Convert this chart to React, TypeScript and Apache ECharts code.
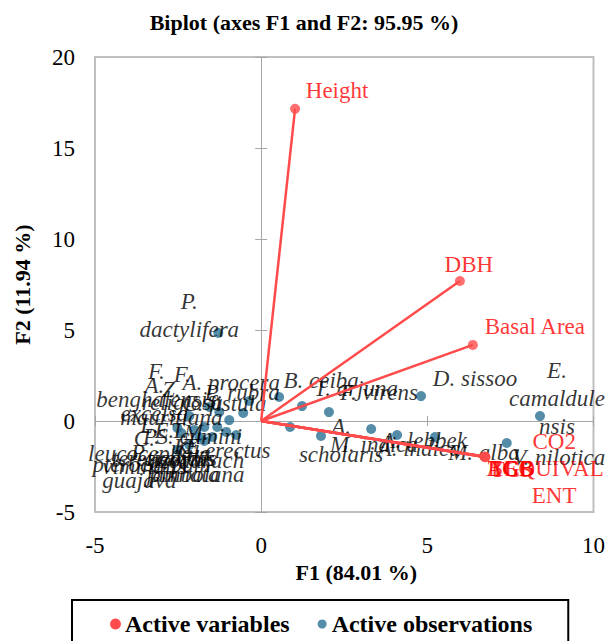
import React, { useEffect, useRef } from 'react';
import * as echarts from 'echarts';

const FONT = "'Liberation Serif', 'Times New Roman', serif";
const RED = '#FF4B4B';
const BLUE = '#2A7193';

// Active variables (F1, F2 coordinates of the vector tips)
const VAR_LABELS = ['Height', 'DBH', 'Basal Area', 'AGB', 'BGB', 'TGB', 'TCS', 'CO2\nEQUIVAL\nENT'];
const VAR_F1 = [1.02, 5.98, 6.37, 6.72, 6.74, 6.73, 6.75, 6.74];
const VAR_F2 = [17.15, 7.69, 4.18, -1.95, -1.97, -1.96, -1.99, -1.98];

// Active observations
const OBS_LABELS = [
  'P.\ndactylifera', 'E.\ncamaldule\nnsis', 'V. nilotica', 'D. sissoo', 'B. ceiba',
  'T. arjuna', 'F. virens', 'A.\nscholaris', 'M. indica', 'A. indica',
  'A. lebbek', 'M. alba', 'A. procera', 'P. rubra', 'C. fistula',
  'F.\nbenghalensis', 'F.\nreligiosa', 'A.\nexcelsa', 'Z.\nmauritiana', 'E.\ntereticornis',
  'L.\nleucocephala', 'M.\nazedarach', 'S. cumini', 'C. erectus', 'T.\ngrandis',
  'E.\njambolana', 'P.\npterocarpum', 'C.\nviminalis', 'P.\nguajava', 'K.\npinnata',
];
const OBS_F1 = [
  -1.29, 8.39, 7.39, 4.81, 0.54,
  1.23, 2.04, 0.87, 1.80, 3.31,
  4.09, 5.23, -0.36, -0.54, -0.96,
  -1.56, -1.26, -2.16, -1.71, -2.01,
  -2.52, -1.47, -1.05, -0.75, -1.32,
  -1.86, -2.40, -2.52, -2.16, -1.71,
];
const OBS_F2 = [
  4.84, 0.27, -1.21, 1.37, 1.32,
  0.82, 0.49, -0.33, -0.82, -0.44,
  -0.77, -0.88, 1.10, 0.44, 0.05,
  0.77, 0.49, 0.27, -0.33, -0.49,
  -0.38, -0.88, -0.60, -0.77, -0.33,
  -0.88, -0.66, -1.59, -1.32, -1.10,
];

// Label placement (styling): pixel offset of each label centre from its point
const VAR_LABEL_OFFSETS = [[42, -18], [9, -17], [62, -18], [26, 12], [26, 12], [26, 12], [26, 12], [69, 11]];
const OBS_LABEL_OFFSETS = [
  [-29, -17], [17, -18], [52, 14], [54, -18], [42, -16],
  [54, -18], [50, -20], [51, 13], [53, 9], [48, 19],
  [27, 5], [49, 15], [-18, -18], [-1, -20], [-5, -17],
  [-53, -21], [-37, -24], [-35, -17], [-33, -24], [-30, 15],
  [-28, 12], [-16, 9], [-27, 5], [-12, 15], [-38, 17],
  [-4, 23], [-30, 17], [-33, 3], [-50, 21], [-20, 19],
];

const X_MIN = -5, X_MAX = 10, Y_MIN = -5, Y_MAX = 20, STEP = 5;

export default function App() {
  const ref = useRef<HTMLDivElement>(null);
  useEffect(() => {
    document.body.style.margin = '0';
    if (!ref.current) return;
    const chart = echarts.init(ref.current, null, { renderer: 'svg' });
    const gray = '#A6A6A6';
    const xBase = { type: 'value', min: X_MIN, max: X_MAX, interval: STEP, splitLine: { show: false } };
    const yBase = { type: 'value', min: Y_MIN, max: Y_MAX, interval: STEP, splitLine: { show: false } };
    const tickLabel = { fontSize: 23, color: '#000', fontFamily: FONT };
    const nameStyle = { fontSize: 22, color: '#000', fontFamily: FONT, fontWeight: 'bold' };

    chart.setOption({
      animation: false,
      title: {
        text: 'Biplot (axes F1 and F2: 95.95 %)',
        left: 'center',
        top: 6,
        textStyle: { fontFamily: FONT, fontWeight: 'bold', fontSize: 22, color: '#000' },
      },
      grid: {
        left: 95, right: 14, top: 57, bottom: 129,
        show: true, borderColor: '#BFBFBF', borderWidth: 2,
      },
      legend: {
        left: 72, top: 600,
        padding: [12, 36, 30, 38],
        borderColor: '#000', borderWidth: 2,
        itemWidth: 9, itemHeight: 9, itemGap: 28,
        textStyle: { fontFamily: FONT, fontWeight: 'bold', fontSize: 24, color: '#000' },
        data: [
          { name: 'Active variables', icon: 'circle', itemStyle: { color: RED } },
          { name: 'Active observations', icon: 'circle', itemStyle: { color: BLUE } },
        ],
      },
      xAxis: [
        {
          ...xBase, position: 'bottom',
          axisLine: { show: false, onZero: false }, axisTick: { show: false },
          axisLabel: { ...tickLabel, margin: 22 },
          name: 'F1 (84.01 %)', nameLocation: 'middle', nameGap: 46,
          nameTextStyle: { ...nameStyle, padding: [0, 0, 0, 24] },
        },
        {
          ...xBase,
          axisLine: { show: true, onZero: true, onZeroAxisIndex: 0, lineStyle: { color: gray, width: 1 } },
          axisTick: { show: true, length: 5, lineStyle: { color: gray } },
          axisLabel: { show: false },
        },
        {
          ...xBase,
          axisLine: { show: false, onZero: true, onZeroAxisIndex: 0 },
          axisTick: { show: true, inside: true, length: 5, lineStyle: { color: gray } },
          axisLabel: { show: false },
        },
      ],
      yAxis: [
        {
          ...yBase, position: 'left',
          axisLine: { show: false, onZero: false }, axisTick: { show: false },
          axisLabel: { ...tickLabel, margin: 20 },
          name: 'F2 (11.94 %)', nameLocation: 'middle', nameGap: 62,
          nameTextStyle: nameStyle,
        },
        {
          ...yBase,
          axisLine: { show: true, onZero: true, onZeroAxisIndex: 0, lineStyle: { color: gray, width: 1 } },
          axisTick: { show: true, length: 6, lineStyle: { color: gray } },
          axisLabel: { show: false },
        },
        {
          ...yBase,
          axisLine: { show: false, onZero: true, onZeroAxisIndex: 0 },
          axisTick: { show: true, inside: true, length: 6, lineStyle: { color: gray } },
          axisLabel: { show: false },
        },
      ],
      series: [
        {
          type: 'lines',
          name: 'Active variables',
          coordinateSystem: 'cartesian2d',
          xAxisIndex: 0, yAxisIndex: 0,
          silent: true,
          z: 3,
          lineStyle: { color: RED, width: 2.5, opacity: 1 },
          data: VAR_F1.map((x, i) => ({ coords: [[0, 0], [x, VAR_F2[i]]] })),
        },
        {
          type: 'scatter',
          name: 'Active variables',
          xAxisIndex: 0, yAxisIndex: 0,
          symbol: 'circle', symbolSize: 10,
          itemStyle: { color: RED },
          z: 4,
          label: {
            show: true, position: 'inside', align: 'center', verticalAlign: 'middle',
            formatter: (p: any) => p.name,
            fontFamily: FONT, fontSize: 23, lineHeight: 27, color: '#FF0000',
          },
          data: VAR_F1.map((x, i) => ({
            name: VAR_LABELS[i],
            value: [x, VAR_F2[i]],
            label: { offset: VAR_LABEL_OFFSETS[i] },
          })),
        },
        {
          type: 'scatter',
          name: 'Active observations',
          xAxisIndex: 0, yAxisIndex: 0,
          symbol: 'circle', symbolSize: 10,
          itemStyle: { color: BLUE },
          z: 2,
          label: {
            show: true, position: 'inside', align: 'center', verticalAlign: 'middle',
            formatter: (p: any) => p.name,
            fontFamily: FONT, fontStyle: 'italic', fontSize: 23, lineHeight: 28, color: '#000',
          },
          data: OBS_F1.map((x, i) => ({
            name: OBS_LABELS[i],
            value: [x, OBS_F2[i]],
            label: { offset: OBS_LABEL_OFFSETS[i] },
          })),
        },
      ],
    });
    return () => chart.dispose();
  }, []);
  return <div ref={ref} style={{ width: 608, height: 641 }} />;
}
